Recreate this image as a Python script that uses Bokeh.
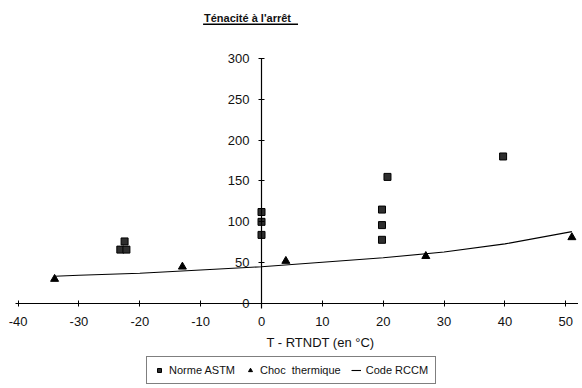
from bokeh.plotting import figure
from bokeh.models import Label, Legend, LegendItem, BoxAnnotation, FixedTicker, Range1d
from bokeh.embed import file_html
from bokeh.resources import INLINE

# Norme ASTM (squares)
astm_x = [-22.5, -23.2, -22.2, 0, 0, 0, 20.7, 19.8, 19.8, 19.8, 39.7]
astm_y = [76, 66, 66, 112, 100, 84, 155, 115, 96, 78, 180]
# Choc thermique (triangles)
choc_x = [-34, -13, 4, 27, 51]
choc_y = [30, 45, 52, 58, 81]
# Code RCCM (curve)
rccm_x = [-34, -30, -20, -10, 0, 10, 20, 30, 40, 51]
rccm_y = [33.4, 34.6, 37, 41, 45, 50.5, 56, 63, 73, 88]

x_ticks = [-40, -30, -20, -10, 0, 10, 20, 30, 40, 50]
x_tick_labels = ["-40", "-30", "-20", "-10", "0", "10", "20", "30", "40", "50"]
y_ticks = [0, 50, 100, 150, 200, 250, 300]

title_text = "Ténacité  à  l'arrêt"
x_label = "T - RTNDT (en °C)"
FONT = "Liberation Sans"

p = figure(width=578, height=384, output_backend="svg", toolbar_location=None,
           x_range=Range1d(-42.89, 52.09), y_range=Range1d(-99.1, 370.9),
           min_border=0, min_border_left=0, min_border_right=0,
           min_border_top=0, min_border_bottom=0)
p.outline_line_color = None
p.grid.visible = False
p.background_fill_color = "white"

for ax in (p.xaxis[0], p.yaxis[0]):
    ax.fixed_location = 0
    ax.axis_line_color = "black"
    ax.axis_line_width = 1.2
    ax.major_tick_in = 3
    ax.major_tick_out = 3
    ax.major_tick_line_color = "black"
    ax.minor_tick_line_color = None
    ax.major_label_text_font = FONT
    ax.major_label_text_font_size = "13px"
    ax.major_label_text_color = "#111111"

p.xaxis[0].ticker = FixedTicker(ticks=x_ticks)
p.xaxis[0].major_label_overrides = {t: s for t, s in zip(x_ticks, x_tick_labels)}
p.yaxis[0].ticker = FixedTicker(ticks=y_ticks)
p.xaxis[0].bounds = (-40.5, 52.09)
p.yaxis[0].bounds = (-6, 300)
p.xaxis[0].major_label_standoff = 10
p.yaxis[0].major_label_standoff = 9

r_line = p.line(rccm_x, rccm_y, line_color="black", line_width=1.1)
r_sq = p.scatter(astm_x, astm_y, marker="square", size=7,
                 fill_color="#2e2e2e", line_color="black", line_width=1)
r_tri = p.scatter(choc_x, choc_y, marker="triangle", size=8,
                  fill_color="black", line_color="black")

p.add_layout(Label(x=-1.8, y=350, text=title_text, text_align="center",
                   text_baseline="middle", text_font=FONT, text_font_size="11px",
                   text_font_style="bold", text_color="#111111"))
p.add_layout(BoxAnnotation(left=-9.6, right=6.0, bottom=341.0, top=342.6,
                           fill_color="black", fill_alpha=1, line_color=None))

p.add_layout(Label(x=9.7, y=-47.7, text=x_label, text_align="center",
                   text_baseline="middle", text_font=FONT, text_font_size="13px",
                   text_color="#111111"))

legend = Legend(items=[LegendItem(label="Norme ASTM", renderers=[r_sq]),
                       LegendItem(label="Choc  thermique", renderers=[r_tri]),
                       LegendItem(label="Code RCCM", renderers=[r_line])],
                orientation="horizontal", location=(146, 0))
legend.label_text_font = FONT
legend.label_text_font_size = "11px"
legend.label_text_color = "#111111"
legend.glyph_width = 10
legend.glyph_height = 12
legend.label_standoff = 5
legend.spacing = 10
legend.padding = 7
legend.margin = 0
legend.border_line_color = "black"
legend.border_line_width = 1
legend.background_fill_alpha = 1
p.add_layout(legend, "center")

open("out.html", "w").write(file_html(p, INLINE))
